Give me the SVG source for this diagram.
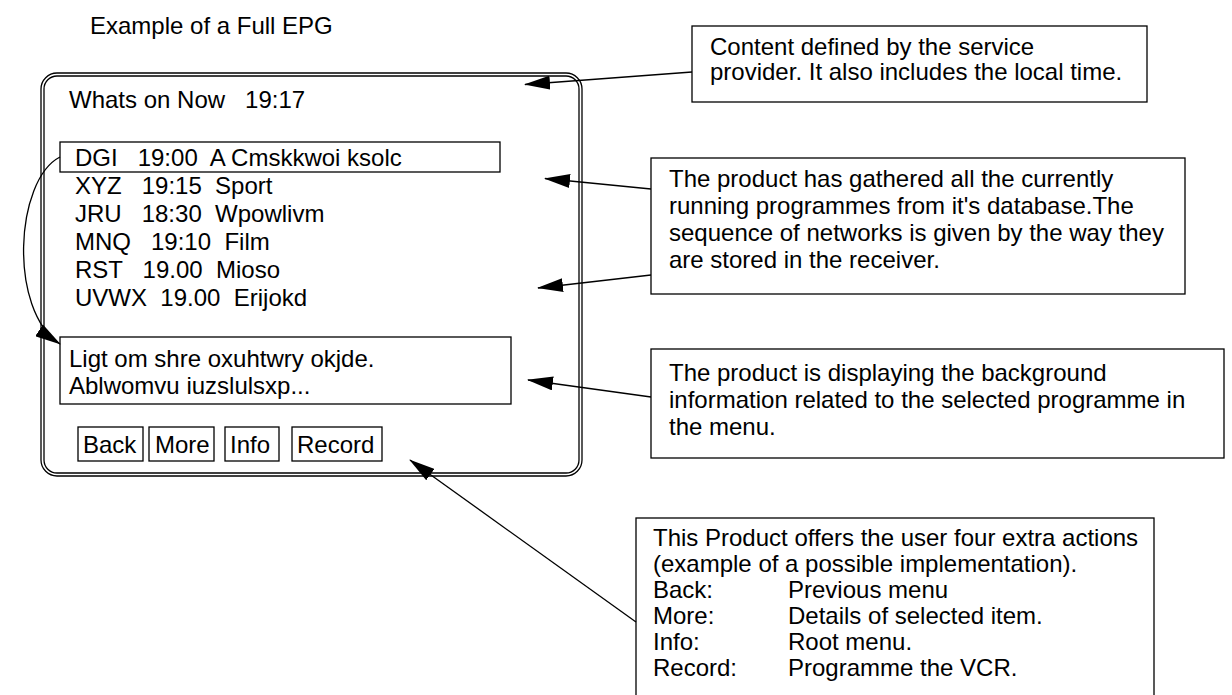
<svg xmlns="http://www.w3.org/2000/svg" width="1232" height="695" viewBox="0 0 1232 695">
<style>
text{font-family:"Liberation Sans",Arial,sans-serif;font-size:24px;fill:#000;white-space:pre}
.b{fill:#fff;stroke:#000;stroke-width:1.3}
.c{fill:none;stroke:#000;stroke-width:1.3}
</style>
<defs>
<marker id="ah" markerUnits="userSpaceOnUse" markerWidth="26" markerHeight="14" refX="25" refY="7" orient="auto">
<path d="M0,0 L26,7 L0,14 z" fill="#000"/>
</marker>
</defs>
<rect width="1232" height="695" fill="#fff"/>
<text x="90" y="34">Example of a Full EPG</text>
<g id="screen">
<rect class="c" x="41" y="73" width="541" height="403" rx="16"/>
<rect class="c" x="44" y="76" width="535" height="397" rx="13"/>
<text x="69" y="108">Whats on Now   19:17</text>
</g>
<g id="list">
<rect class="b" x="60" y="142" width="440" height="30"/>
<text x="75" y="166">DGI   19:00  A Cmskkwoi ksolc</text>
<text x="75" y="194">XYZ   19:15  Sport</text>
<text x="75" y="222">JRU   18:30  Wpowlivm</text>
<text x="75" y="250">MNQ   19:10  Film</text>
<text x="75" y="278">RST   19.00  Mioso</text>
<text x="75" y="306">UVWX  19.00  Erijokd</text>
</g>
<g id="info">
<rect class="b" x="60" y="337" width="451" height="67"/>
<text x="69" y="367">Ligt om shre oxuhtwry okjde.</text>
<text x="69" y="394">Ablwomvu iuzslulsxp...</text>
</g>
<g id="buttons">
<rect class="b" x="78" y="427" width="65" height="34"/>
<text x="83" y="453">Back</text>
<rect class="b" x="149" y="427" width="65" height="34"/>
<text x="155" y="453">More</text>
<rect class="b" x="225" y="427" width="54" height="34"/>
<text x="230" y="453">Info</text>
<rect class="b" x="292" y="427" width="90" height="34"/>
<text x="297" y="453">Record</text>
</g>
<g id="note1">
<rect class="b" x="692" y="26" width="455" height="76"/>
<text x="710" y="55">Content defined by the service</text>
<text x="710" y="80">provider. It also includes the local time.</text>
</g>
<g id="note2">
<rect class="b" x="651" y="158" width="534" height="136"/>
<text x="669" y="187">The product has gathered all the currently</text>
<text x="669" y="214">running programmes from it's database.The</text>
<text x="669" y="241">sequence of networks is given by the way they</text>
<text x="669" y="268">are stored in the receiver.</text>
</g>
<g id="note3">
<rect class="b" x="651" y="349" width="573" height="109"/>
<text x="669" y="381">The product is displaying the background</text>
<text x="669" y="408">information related to the selected programme in</text>
<text x="669" y="435">the menu.</text>
</g>
<g id="note4">
<rect class="b" x="636" y="518" width="518" height="200"/>
<text x="653" y="546">This Product offers the user four extra actions</text>
<text x="653" y="572">(example of a possible implementation).</text>
<text x="653" y="598">Back:</text><text x="788" y="598">Previous menu</text>
<text x="653" y="624">More:</text><text x="788" y="624">Details of selected item.</text>
<text x="653" y="650">Info:</text><text x="788" y="650">Root menu.</text>
<text x="653" y="676">Record:</text><text x="788" y="676">Programme the VCR.</text>
</g>
<g id="connectors">
<path class="c" d="M692,72 L525,84.5" marker-end="url(#ah)"/>
<path class="c" d="M651,189 L545,178.5" marker-end="url(#ah)"/>
<path class="c" d="M651,275 L538,288" marker-end="url(#ah)"/>
<path class="c" d="M651,397 L528,380" marker-end="url(#ah)"/>
<path class="c" d="M636,622 L410,460" marker-end="url(#ah)"/>
<path class="c" d="M60,157 C15,180 8,310 60,344" marker-end="url(#ah)"/>
</g>
</svg>
